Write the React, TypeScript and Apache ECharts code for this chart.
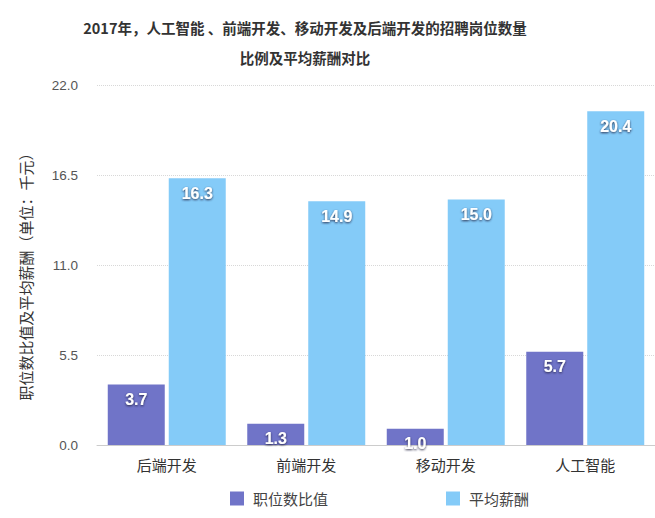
import React, { useEffect, useRef } from "react";
import * as echarts from "echarts";

const categories = ["后端开发", "前端开发", "移动开发", "人工智能"];
const ratioValues = [3.7, 1.3, 1.0, 5.7];
const salaryValues = [16.3, 14.9, 15.0, 20.4];
const seriesNames = ["职位数比值", "平均薪酬"];
const titleText = "2017年，人工智能 、前端开发、移动开发及后端开发的招聘岗位数量\n比例及平均薪酬对比";
const yAxisName = "职位数比值及平均薪酬（单位：千元）";

const FONT = "'Noto Sans CJK SC', 'Noto Sans', sans-serif";

export default function App() {
  const ref = useRef<HTMLDivElement>(null);
  useEffect(() => {
    if (!ref.current) return;
    const chart = echarts.init(ref.current, null, { renderer: "svg" });
    const label = {
      show: true,
      position: "insideTop",
      distance: 7,
      color: "#ffffff",
      fontSize: 16,
      fontWeight: "bold",
      fontFamily: "Liberation Sans, Arial, sans-serif",
      textShadowColor: "rgba(30,30,60,0.9)",
      textShadowBlur: 2,
      textShadowOffsetX: 0,
      textShadowOffsetY: 1,
      formatter: (p: any) => Number(p.value).toFixed(1),
    };
    chart.setOption({
      animation: false,
      backgroundColor: "#ffffff",
      textStyle: { fontFamily: FONT },
      title: {
        text: titleText,
        left: 300,
        textAlign: "center",
        top: 7,
        textStyle: {
          fontSize: 14.5,
          fontWeight: "bold",
          color: "#333333",
          lineHeight: 30,
          fontFamily: FONT,
        },
      },
      legend: {
        left: 225,
        top: 486,
        itemGap: 118,
        itemWidth: 14,
        itemHeight: 14,
        icon: "rect",
        textStyle: { fontSize: 15, color: "#444444", fontFamily: FONT, padding: [0, 0, 0, 4] },
        data: seriesNames,
      },
      grid: { left: 97, top: 85, width: 559, bottom: 73, containLabel: false },
      xAxis: {
        type: "category",
        data: categories,
        axisLine: { lineStyle: { color: "#cccccc" } },
        axisTick: { show: false },
        axisLabel: { fontSize: 15, color: "#333333", margin: 12, fontFamily: FONT },
      },
      yAxis: {
        type: "value",
        min: 0,
        max: 22,
        interval: 5.5,
        name: yAxisName,
        nameLocation: "middle",
        nameGap: 64,
        nameTextStyle: { fontSize: 15, color: "#333333", fontFamily: FONT, padding: [0, 16, 0, 0] },
        axisLine: { show: false },
        axisTick: { show: false },
        axisLabel: {
          fontSize: 13.5,
          color: "#555555",
          margin: 19,
          fontFamily: "Liberation Sans, Arial, sans-serif",
          formatter: (v: number) => v.toFixed(1),
        },
        splitLine: { lineStyle: { color: "#d8d8d8", type: "dotted" } },
      },
      series: [
        {
          name: seriesNames[0],
          type: "bar",
          data: ratioValues,
          barWidth: 57,
          barGap: "7%",
          itemStyle: { color: "#7074C8" },
          label,
        },
        {
          name: seriesNames[1],
          type: "bar",
          data: salaryValues,
          barWidth: 57,
          itemStyle: { color: "#84CBF8" },
          label,
        },
      ],
    });
    return () => chart.dispose();
  }, []);
  return (
    <div
      ref={ref}
      style={{ position: "fixed", left: 0, top: 0, width: 655, height: 518 }}
    />
  );
}
